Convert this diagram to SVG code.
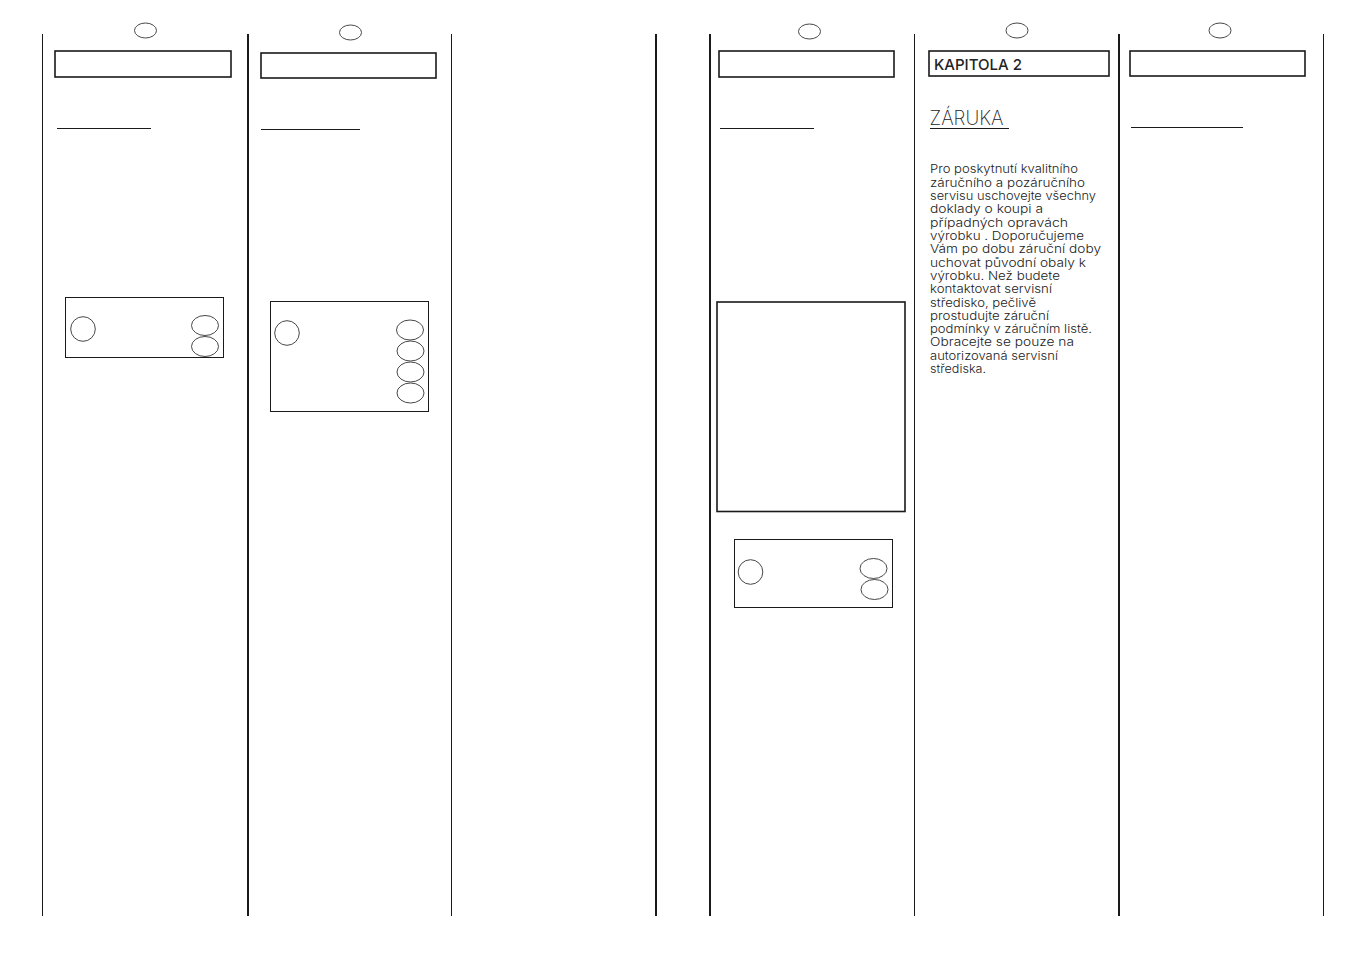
<svg xmlns="http://www.w3.org/2000/svg" width="1351" height="954" viewBox="0 0 1351 954">
<style>
.bg{fill:#fff}
.thin{stroke:#1a1a1a;stroke-width:1;fill:none}
.thick{stroke:#1a1a1a;stroke-width:2;fill:none}
.head{stroke:#1a1a1a;stroke-width:1.6;fill:#fff}
.box{stroke:#1a1a1a;stroke-width:1;fill:#fff}
.ring{stroke:#333;stroke-width:.9;fill:none}
.u{stroke:#1a1a1a;stroke-width:1;fill:none}
text{font-family:"Inter","Liberation Sans",sans-serif;fill:#222}
.body{font-size:11.5px;font-weight:300}
</style>
<rect class="bg" width="1351" height="954"/>
<g id="connectors">
<path class="thin" d="M42.5 34V916"/>
<path class="thick" d="M248 34V916"/>
<path class="thin" d="M451.500 34V916"/>
<path class="thick" d="M656 34V916"/>
<path class="thick" d="M710 34V916"/>
<path class="thin" d="M914.500 34V916"/>
<path class="thick" d="M1119 34V916"/>
<path class="thin" d="M1323.500 34V916"/>
</g>
<g id="page-1">
<ellipse class="ring" cx="145.500" cy="30.500" rx="11" ry="7.500"/>
<rect class="head" x="55" y="51" width="176" height="26"/>
<path class="u" d="M57 128.500H151"/>
<rect class="box" x="65.500" y="297.500" width="158" height="60"/>
<circle class="ring" cx="83" cy="329" r="12.300"/>
<ellipse class="ring" cx="205" cy="325.500" rx="13.500" ry="10"/>
<ellipse class="ring" cx="205" cy="346.500" rx="13.500" ry="10"/>
</g>
<g id="page-2">
<ellipse class="ring" cx="350.500" cy="32.500" rx="11" ry="7.500"/>
<rect class="head" x="261" y="53" width="175" height="25"/>
<path class="u" d="M261 129.500H360"/>
<rect class="box" x="270.500" y="301.500" width="158" height="110"/>
<circle class="ring" cx="287" cy="333" r="12.300"/>
<ellipse class="ring" cx="410" cy="330" rx="13.500" ry="10"/>
<ellipse class="ring" cx="410.500" cy="351" rx="13.500" ry="10"/>
<ellipse class="ring" cx="410.500" cy="372" rx="13.500" ry="10"/>
<ellipse class="ring" cx="410.500" cy="393" rx="13.500" ry="10"/>
</g>
<g id="page-3">
<ellipse class="ring" cx="809.500" cy="31.500" rx="11" ry="7.500"/>
<rect class="head" x="719" y="51" width="175" height="26"/>
<path class="u" d="M720 128.500H814"/>
<rect class="head" x="717" y="302" width="188" height="209.500"/>
<rect class="box" x="734.500" y="539.500" width="158" height="68"/>
<circle class="ring" cx="750.500" cy="572" r="12.300"/>
<ellipse class="ring" cx="873.500" cy="568.500" rx="13.500" ry="10"/>
<ellipse class="ring" cx="874.500" cy="589.500" rx="13.500" ry="10"/>
</g>
<g id="page-4">
<ellipse class="ring" cx="1017" cy="30.500" rx="11" ry="7.500"/>
<rect class="head" x="929" y="51" width="180" height="25"/>
<text x="934" y="70" font-size="15" font-weight="500" textLength="88" lengthAdjust="spacingAndGlyphs">KAPITOLA 2</text>
<text x="929.500" y="125" font-size="20" font-weight="200" textLength="74" lengthAdjust="spacingAndGlyphs">ZÁRUKA</text>
<path class="u" d="M930 128.500H1009"/>
<text class="body" x="930" y="173" textLength="148" lengthAdjust="spacingAndGlyphs">Pro poskytnutí kvalitního</text>
<text class="body" x="930" y="187" textLength="155" lengthAdjust="spacingAndGlyphs">záručního a pozáručního</text>
<text class="body" x="930" y="200" textLength="166" lengthAdjust="spacingAndGlyphs">servisu uschovejte všechny</text>
<text class="body" x="930" y="213" textLength="113" lengthAdjust="spacingAndGlyphs">doklady o koupi a</text>
<text class="body" x="930" y="227" textLength="138" lengthAdjust="spacingAndGlyphs">případných opravách</text>
<text class="body" x="930" y="240" textLength="154" lengthAdjust="spacingAndGlyphs">výrobku . Doporučujeme</text>
<text class="body" x="930" y="253" textLength="171" lengthAdjust="spacingAndGlyphs">Vám po dobu záruční doby</text>
<text class="body" x="930" y="267" textLength="156" lengthAdjust="spacingAndGlyphs">uchovat původní obaly k</text>
<text class="body" x="930" y="280" textLength="130" lengthAdjust="spacingAndGlyphs">výrobku. Než budete</text>
<text class="body" x="930" y="293" textLength="122" lengthAdjust="spacingAndGlyphs">kontaktovat servisní</text>
<text class="body" x="930" y="307" textLength="106" lengthAdjust="spacingAndGlyphs">středisko, pečlivě</text>
<text class="body" x="930" y="320" textLength="119" lengthAdjust="spacingAndGlyphs">prostudujte záruční</text>
<text class="body" x="930" y="333" textLength="162" lengthAdjust="spacingAndGlyphs">podmínky v záručním listě.</text>
<text class="body" x="930" y="346" textLength="144" lengthAdjust="spacingAndGlyphs">Obracejte se pouze na</text>
<text class="body" x="930" y="360" textLength="128" lengthAdjust="spacingAndGlyphs">autorizovaná servisní</text>
<text class="body" x="930" y="373" textLength="56" lengthAdjust="spacingAndGlyphs">střediska.</text>
</g>
<g id="page-5">
<ellipse class="ring" cx="1220" cy="30.500" rx="11" ry="7.500"/>
<rect class="head" x="1130" y="51" width="175" height="25"/>
<path class="u" d="M1131 127.500H1243"/>
</g>
</svg>
